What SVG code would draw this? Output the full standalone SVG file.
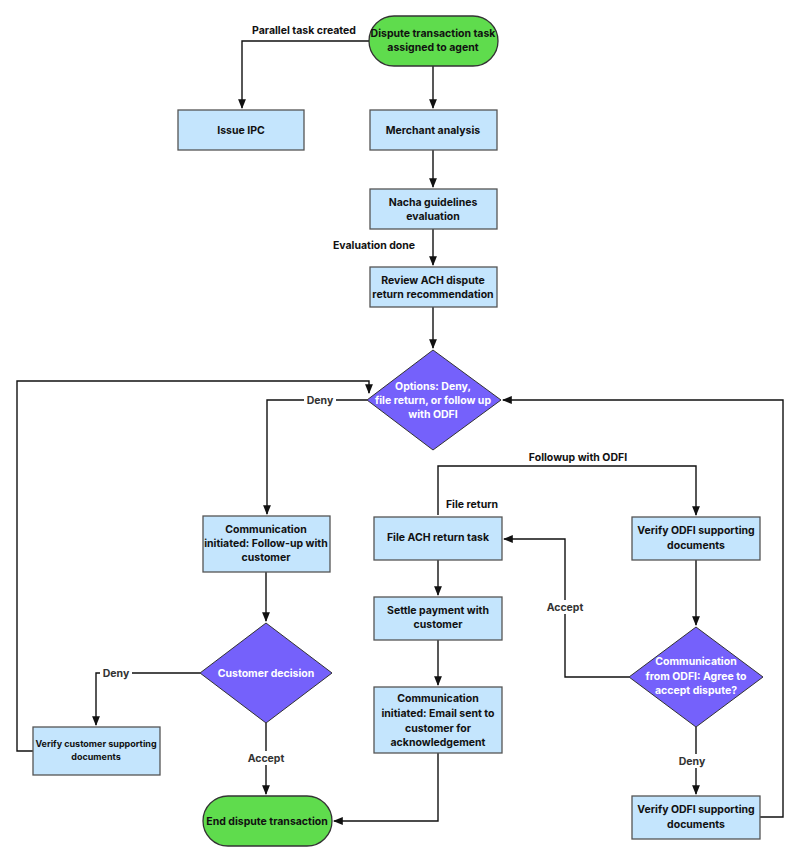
<svg xmlns="http://www.w3.org/2000/svg" width="800" height="863" viewBox="0 0 800 863">
<style>
text{font-family:"Inter","Liberation Sans",sans-serif;font-weight:700;font-size:10.5px;text-anchor:middle;fill:#111}
.w{fill:#fff}
.box{fill:#c4e5fd;stroke:#555;stroke-width:1.3}
.term{fill:#5fdc4d;stroke:#333;stroke-width:1.3}
.dia{fill:#7561fb;stroke:#333;stroke-width:1}
.c path{fill:none;stroke:#111;stroke-width:1.4}
.lbl{fill:#333}
</style>
<defs><marker id="a" viewBox="0 0 10 10" refX="9" refY="5" markerWidth="7" markerHeight="7" orient="auto"><path d="M0,1 L10,5 L0,9 z" fill="#111"/></marker></defs>
<rect width="800" height="863" fill="#fff"/>
<g class="c">
<path d="M369,41 H242 V108" marker-end="url(#a)"/>
<path d="M433,66 V108" marker-end="url(#a)"/>
<path d="M433,150 V187" marker-end="url(#a)"/>
<path d="M433,229 V265" marker-end="url(#a)"/>
<path d="M433,307 V348" marker-end="url(#a)"/>
<path d="M367,400 H267 V514" marker-end="url(#a)"/>
<path d="M266,572 V621" marker-end="url(#a)"/>
<path d="M200,673 H96 V725" marker-end="url(#a)"/>
<path d="M33,751 H17 V381 H369 V393" marker-end="url(#a)"/>
<path d="M266,723 V794" marker-end="url(#a)"/>
<path d="M438,515 V466 H696 V515" marker-end="url(#a)"/>
<path d="M438,560 V595" marker-end="url(#a)"/>
<path d="M438,640 V685" marker-end="url(#a)"/>
<path d="M438,753 V821 H334" marker-end="url(#a)"/>
<path d="M696,560 V625" marker-end="url(#a)"/>
<path d="M629,677 H565 V539 H504" marker-end="url(#a)"/>
<path d="M696,727 V794" marker-end="url(#a)"/>
<path d="M760,817 H783 V400 H503" marker-end="url(#a)"/>
</g>
<g id="labels">
<rect x="304" y="393" width="32" height="14" fill="#fff"/><text x="320" y="404" class="lbl">Deny</text>
<rect x="100" y="666" width="32" height="14" fill="#fff"/><text x="116" y="677" class="lbl">Deny</text>
<rect x="246" y="751" width="40" height="14" fill="#fff"/><text x="266" y="762" class="lbl">Accept</text>
<rect x="546" y="600" width="40" height="14" fill="#fff"/><text x="565" y="611" class="lbl">Accept</text>
<rect x="678" y="754" width="34" height="14" fill="#fff"/><text x="692" y="765" class="lbl">Deny</text>
<text x="304" y="34">Parallel task created</text>
<text x="374" y="249">Evaluation done</text>
<text x="578" y="461">Followup with ODFI</text>
<text x="472" y="508">File return</text>
</g>
<g id="start"><rect class="term" x="369" y="16" width="129" height="50" rx="25"/><text x="433" y="37">Dispute transaction task</text><text x="433" y="51">assigned to agent</text></g>
<g id="ipc"><rect class="box" x="178" y="110" width="126" height="40"/><text x="241" y="134">Issue IPC</text></g>
<g id="merchant"><rect class="box" x="370" y="110" width="127" height="40"/><text x="433" y="134">Merchant analysis</text></g>
<g id="nacha"><rect class="box" x="370" y="189" width="127" height="40"/><text x="433" y="206">Nacha guidelines</text><text x="433" y="220">evaluation</text></g>
<g id="review"><rect class="box" x="370" y="267" width="127" height="40"/><text x="433" y="284">Review ACH dispute</text><text x="433" y="298">return recommendation</text></g>
<g id="options"><path class="dia" d="M433,350 L501,400 L433,450 L367,400 Z"/><text class="w" x="433" y="390">Options: Deny,</text><text class="w" x="433" y="404">file return, or follow up</text><text class="w" x="433" y="418">with ODFI</text></g>
<g id="comm1"><rect class="box" x="203" y="516" width="127" height="56"/><text x="266" y="533">Communication</text><text x="266" y="547">initiated: Follow-up with</text><text x="266" y="561">customer</text></g>
<g id="custdec"><path class="dia" d="M266,623 L332,673 L266,723 L200,673 Z"/><text class="w" x="266" y="677">Customer decision</text></g>
<g id="vcust"><rect class="box" x="33" y="727" width="127" height="48"/><text x="96" y="747" style="font-size:9px">Verify customer supporting</text><text x="96" y="760" style="font-size:9px">documents</text></g>
<g id="end"><rect class="term" x="203" y="796" width="129" height="50" rx="25"/><text x="267" y="825">End dispute transaction</text></g>
<g id="fileach"><rect class="box" x="374" y="517" width="128" height="43"/><text x="438" y="541">File ACH return task</text></g>
<g id="settle"><rect class="box" x="374" y="597" width="128" height="43"/><text x="438" y="614">Settle payment with</text><text x="438" y="628">customer</text></g>
<g id="email"><rect class="box" x="374" y="687" width="128" height="66"/><text x="438" y="702">Communication</text><text x="438" y="717">initiated: Email sent to</text><text x="438" y="732">customer for</text><text x="438" y="746">acknowledgement</text></g>
<g id="vodfi1"><rect class="box" x="632" y="517" width="128" height="43"/><text x="696" y="534">Verify ODFI supporting</text><text x="696" y="549">documents</text></g>
<g id="odfidec"><path class="dia" d="M696,627 L763,677 L696,727 L629,677 Z"/><text class="w" x="696" y="665">Communication</text><text class="w" x="696" y="680">from ODFI: Agree to</text><text class="w" x="696" y="694">accept dispute?</text></g>
<g id="vodfi2"><rect class="box" x="632" y="796" width="128" height="43"/><text x="696" y="813">Verify ODFI supporting</text><text x="696" y="828">documents</text></g>
</svg>
